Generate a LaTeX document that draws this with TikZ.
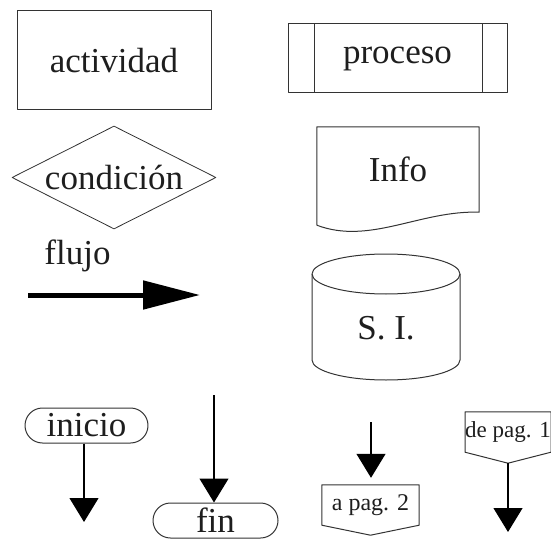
\documentclass[tikz,border=0pt]{standalone}
\usepackage{fontspec}
\setmainfont{Liberation Serif}
\usepackage{tikz}
\usetikzlibrary{arrows.meta,calc,shapes.geometric,shapes.misc}
\definecolor{ink}{HTML}{1E1E1E}
\definecolor{edge}{HTML}{333333}
\tikzset{
    every picture/.style={line join=round},
    bigtext/.style={font=\fontsize{35}{40}\selectfont,text=ink},
    smalltext/.style={font=\fontsize{24}{28}\selectfont,text=ink},
    boxline/.style={draw=edge,line width=1pt},
    actbox/.style={boxline,bigtext,minimum width=194pt,minimum height=99pt,inner sep=0pt},
    procbox/.style={boxline,bigtext,minimum width=219pt,minimum height=69pt,inner sep=0pt},
    condnode/.style={diamond,boxline,line width=0.8pt,aspect=2,bigtext,inner sep=0pt,
      minimum width=204pt,minimum height=103pt},
    docnode/.style={bigtext,minimum width=162pt,minimum height=85pt,inner sep=0pt},
    termnode/.style={rounded rectangle,boxline,bigtext,minimum height=35pt,inner sep=0pt},
    pagenode/.style={smalltext,minimum height=40pt,inner sep=0pt},
    thinarrow/.style={-{Triangle[length=24pt,width=29pt]},draw=black,line width=1.2pt},
    fatarrow/.style={-{Triangle[length=57pt,width=28pt]},draw=black,line width=5pt}
}
\begin{document}
\begin{tikzpicture}[x=1pt,y=-1pt]
    \useasboundingbox (0,0) rectangle (551,540);
    \node[actbox] (actividad) at (114,60.5) {actividad};
    \node[procbox] (proceso) at (397.5,58.5) {proceso};
    \draw[boxline] ($(proceso.north west)+(27,0)$) -- ($(proceso.south west)+(27,0)$);
    \draw[boxline] ($(proceso.north east)+(-25,0)$) -- ($(proceso.south east)+(-25,0)$);
    \node[condnode] (condicion) at (114,177.5) {condición};
    \node[docnode] (info) at (398,169.5) {Info};
    \draw[boxline] ($(info.south west)+(0,13)$) -- (info.north west) -- (info.north east) -- (info.south east)
        .. controls +(-59,-2) and +(53,20) .. ($(info.south west)+(0,13)$);
    \node[bigtext] (flujo) at (77.5,256) {flujo};
    \coordinate (flujoA) at (28,295);
    \coordinate (flujoB) at (200,295);
    \draw[fatarrow] (flujoA) -- (flujoB);
    \node[bigtext] (si) at (386,328) {S. I.};
    \draw[boxline] (386,274) ellipse [x radius=74,y radius=20];
    \draw[boxline] (312,274) -- (312,360) arc[start angle=180,end angle=0,x radius=74,y radius=20] -- (460,274);
    \node[termnode,minimum width=123pt] (inicio) at (86.5,425.5) {inicio};
    \coordinate (inicioEnd) at (84,522);
    \draw[thinarrow] (inicio.south -| inicioEnd) -- (inicioEnd);
    \node[termnode,minimum width=125pt] (fin) at (215.5,520.5) {fin};
    \coordinate (finStart) at (214,395);
    \draw[thinarrow] (finStart) -- (finStart |- fin.north);
    \node[pagenode,minimum width=97pt] (apag) at (370.5,505) {a pag. 2};
    \draw[boxline] (apag.north west) -- (apag.north east) -- (apag.south east)
        -- ($(apag.south)+(0,10)$) -- (apag.south west) -- cycle;
    \coordinate (apagStart) at (371,422);
    \draw[thinarrow,shorten >=7pt] (apagStart) -- (apagStart |- apag.north);
    \node[pagenode,font=\fontsize{23}{27}\selectfont,minimum width=84pt] (depag) at (508,432) {de pag. 1};
    \coordinate (depagTip) at ($(depag.south)+(0,11)$);
    \draw[boxline] (depag.north west) -- (depag.north east) -- (depag.south east)
        -- (depagTip) -- (depag.south west) -- cycle;
    \coordinate (depagEnd) at (508,532);
    \draw[thinarrow] (depagTip) -- (depagEnd);
\end{tikzpicture}
\end{document}
